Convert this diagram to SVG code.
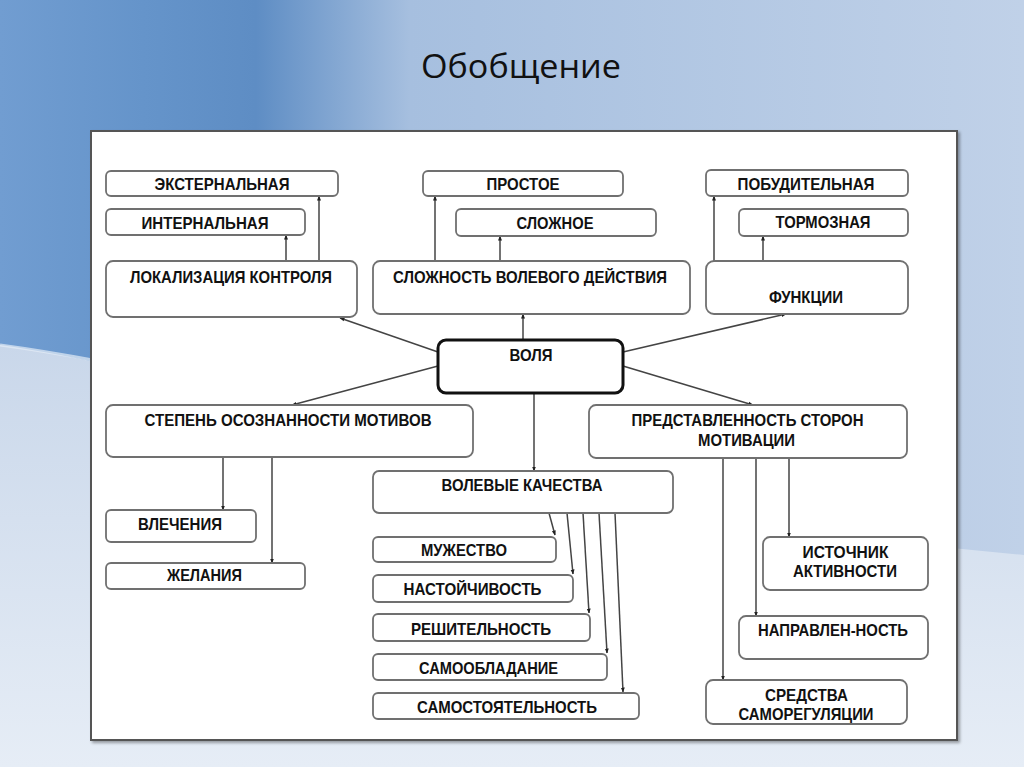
<svg xmlns="http://www.w3.org/2000/svg" width="1024" height="767" viewBox="0 0 1024 767">
<defs>
<linearGradient id="bgH" x1="0" y1="0" x2="1" y2="0">
<stop offset="0" stop-color="#719dd1"/>
<stop offset="0.14" stop-color="#6594ca"/>
<stop offset="0.25" stop-color="#5e8dc4"/>
<stop offset="0.4" stop-color="#a6bfdf"/>
<stop offset="1" stop-color="#c0d1e8"/>
</linearGradient>
<linearGradient id="wave" x1="0" y1="0" x2="0" y2="1">
<stop offset="0" stop-color="#c9d7ea"/>
<stop offset="1" stop-color="#e6edf6"/>
</linearGradient>
<marker id="ah" viewBox="0 0 10 10" refX="9" refY="5" markerWidth="5" markerHeight="5" markerUnits="userSpaceOnUse" orient="auto">
<path d="M0,1 L10,5 L0,9 z" fill="#222"/>
</marker>
<filter id="sh" x="-5%" y="-5%" width="110%" height="110%">
<feDropShadow dx="2" dy="2" stdDeviation="1.5" flood-color="#000" flood-opacity="0.35"/>
</filter>
</defs>
<style>
.box{fill:#fff;stroke:#707070;stroke-width:1.8}
.main{fill:#fff;stroke:#111;stroke-width:3}
.t{font-family:"Liberation Sans Narrow","Liberation Sans",Arial,sans-serif;font-weight:bold;font-size:17px;fill:#111;text-anchor:middle}
.c line{stroke:#444;stroke-width:1.5;marker-end:url(#ah)}
</style>
<rect x="0" y="0" width="1024" height="767" fill="url(#bgH)"/>
<path d="M0,345 C250,380 600,520 1024,555 L1024,767 L0,767 Z" fill="url(#wave)"/>
<path d="M0,345 C200,372 420,440 640,490" fill="none" stroke="#e4ecf6" stroke-width="3" opacity="0.7"/>
<text x="521" y="78" font-family="'Open Sans','Noto Sans',sans-serif" font-size="32" fill="#111" text-anchor="middle" textLength="200" lengthAdjust="spacingAndGlyphs">Обобщение</text>
<rect x="91" y="131" width="866" height="609" fill="#fff" stroke="#555" stroke-width="2" filter="url(#sh)"/>
<g class="c" id="connectors">
<line x1="286" y1="261" x2="286" y2="235"/>
<line x1="319" y1="261" x2="319" y2="196"/>
<line x1="435" y1="261" x2="435" y2="196"/>
<line x1="500" y1="261" x2="500" y2="236"/>
<line x1="523" y1="340" x2="523" y2="314"/>
<line x1="714" y1="261" x2="714" y2="196"/>
<line x1="763" y1="261" x2="763" y2="236"/>
<line x1="438" y1="352" x2="340" y2="318"/>
<line x1="623" y1="352" x2="786" y2="314"/>
<line x1="438" y1="366" x2="292" y2="405"/>
<line x1="623" y1="366" x2="753" y2="405"/>
<line x1="534" y1="393" x2="534" y2="471"/>
<line x1="223" y1="457" x2="223" y2="510"/>
<line x1="272" y1="457" x2="272" y2="563"/>
<line x1="549" y1="513" x2="555" y2="535"/>
<line x1="567" y1="513" x2="573" y2="574"/>
<line x1="583" y1="513" x2="589" y2="613"/>
<line x1="599" y1="513" x2="607" y2="653"/>
<line x1="615" y1="513" x2="623" y2="692"/>
<line x1="789" y1="458" x2="789" y2="537"/>
<line x1="756" y1="458" x2="756" y2="616"/>
<line x1="723" y1="458" x2="723" y2="680"/>
</g>
<g id="n-external"><rect class="box" x="106" y="171" width="232" height="25" rx="5"/><text class="t" x="222" y="189.5" textLength="135" lengthAdjust="spacingAndGlyphs">ЭКСТЕРНАЛЬНАЯ</text></g>
<g id="n-internal"><rect class="box" x="106" y="209" width="199" height="26" rx="5"/><text class="t" x="205" y="228.5" textLength="127" lengthAdjust="spacingAndGlyphs">ИНТЕРНАЛЬНАЯ</text></g>
<g id="n-lokal"><rect class="box" x="106" y="261" width="251" height="56" rx="7"/><text class="t" x="231" y="282.5" textLength="202" lengthAdjust="spacingAndGlyphs">ЛОКАЛИЗАЦИЯ КОНТРОЛЯ</text></g>
<g id="n-prostoe"><rect class="box" x="423" y="171" width="200" height="25" rx="5"/><text class="t" x="523" y="189.5" textLength="73" lengthAdjust="spacingAndGlyphs">ПРОСТОЕ</text></g>
<g id="n-slozhnoe"><rect class="box" x="456" y="209" width="200" height="27" rx="5"/><text class="t" x="555" y="228.5" textLength="77" lengthAdjust="spacingAndGlyphs">СЛОЖНОЕ</text></g>
<g id="n-slozhnost"><rect class="box" x="373" y="261" width="317" height="53" rx="7"/><text class="t" x="530" y="282.5" textLength="274" lengthAdjust="spacingAndGlyphs">СЛОЖНОСТЬ ВОЛЕВОГО ДЕЙСТВИЯ</text></g>
<g id="n-pobud"><rect class="box" x="706" y="170" width="202" height="26" rx="5"/><text class="t" x="806" y="189.5" textLength="137" lengthAdjust="spacingAndGlyphs">ПОБУДИТЕЛЬНАЯ</text></g>
<g id="n-tormoz"><rect class="box" x="739" y="209" width="169" height="27" rx="5"/><text class="t" x="823" y="227.5" textLength="95" lengthAdjust="spacingAndGlyphs">ТОРМОЗНАЯ</text></g>
<g id="n-funkcii"><rect class="box" x="706" y="261" width="202" height="53" rx="8"/><text class="t" x="806" y="302.5" textLength="74" lengthAdjust="spacingAndGlyphs">ФУНКЦИИ</text></g>
<g id="n-volya"><rect class="main" x="438" y="340" width="185" height="53" rx="8"/><text class="t" x="531" y="360.5" textLength="43" lengthAdjust="spacingAndGlyphs">ВОЛЯ</text></g>
<g id="n-stepen"><rect class="box" x="106" y="405" width="367" height="52" rx="7"/><text class="t" x="288" y="426" textLength="287" lengthAdjust="spacingAndGlyphs">СТЕПЕНЬ ОСОЗНАННОСТИ МОТИВОВ</text></g>
<g id="n-vlechenia"><rect class="box" x="106" y="510" width="150" height="32" rx="5"/><text class="t" x="180" y="530" textLength="84" lengthAdjust="spacingAndGlyphs">ВЛЕЧЕНИЯ</text></g>
<g id="n-zhelania"><rect class="box" x="106" y="563" width="199" height="26" rx="5"/><text class="t" x="204.5" y="581" textLength="75" lengthAdjust="spacingAndGlyphs">ЖЕЛАНИЯ</text></g>
<g id="n-volevye"><rect class="box" x="373" y="471" width="300" height="42" rx="6"/><text class="t" x="522" y="491" textLength="161" lengthAdjust="spacingAndGlyphs">ВОЛЕВЫЕ КАЧЕСТВА</text></g>
<g id="n-muzh"><rect class="box" x="373" y="537" width="183" height="25" rx="5"/><text class="t" x="464" y="556" textLength="86" lengthAdjust="spacingAndGlyphs">МУЖЕСТВО</text></g>
<g id="n-nast"><rect class="box" x="373" y="575" width="200" height="27" rx="5"/><text class="t" x="472.5" y="594.5" textLength="138" lengthAdjust="spacingAndGlyphs">НАСТОЙЧИВОСТЬ</text></g>
<g id="n-resh"><rect class="box" x="373" y="614" width="217" height="27" rx="5"/><text class="t" x="481" y="634.5" textLength="140" lengthAdjust="spacingAndGlyphs">РЕШИТЕЛЬНОСТЬ</text></g>
<g id="n-samoobl"><rect class="box" x="373" y="654" width="234" height="26" rx="5"/><text class="t" x="488.5" y="673.5" textLength="139" lengthAdjust="spacingAndGlyphs">САМООБЛАДАНИЕ</text></g>
<g id="n-samost"><rect class="box" x="373" y="693" width="266" height="26" rx="5"/><text class="t" x="507" y="712.5" textLength="180" lengthAdjust="spacingAndGlyphs">САМОСТОЯТЕЛЬНОСТЬ</text></g>
<g id="n-predst"><rect class="box" x="589" y="405" width="318" height="53" rx="7"/><text class="t" x="747.5" y="426" textLength="232" lengthAdjust="spacingAndGlyphs">ПРЕДСТАВЛЕННОСТЬ СТОРОН</text><text class="t" x="746.5" y="446" textLength="97" lengthAdjust="spacingAndGlyphs">МОТИВАЦИИ</text></g>
<g id="n-istochnik"><rect class="box" x="763" y="537" width="165" height="53" rx="7"/><text class="t" x="845.5" y="557.5" textLength="86" lengthAdjust="spacingAndGlyphs">ИСТОЧНИК</text><text class="t" x="845" y="576.5" textLength="104" lengthAdjust="spacingAndGlyphs">АКТИВНОСТИ</text></g>
<g id="n-napravl"><rect class="box" x="739" y="616" width="189" height="43" rx="7"/><text class="t" x="833" y="635.5" textLength="150" lengthAdjust="spacingAndGlyphs">НАПРАВЛЕН-НОСТЬ</text></g>
<g id="n-sredstva"><rect class="box" x="706" y="680" width="201" height="44" rx="7"/><text class="t" x="806.5" y="701" textLength="83" lengthAdjust="spacingAndGlyphs">СРЕДСТВА</text><text class="t" x="806" y="720" textLength="135" lengthAdjust="spacingAndGlyphs">САМОРЕГУЛЯЦИИ</text></g>
</svg>
